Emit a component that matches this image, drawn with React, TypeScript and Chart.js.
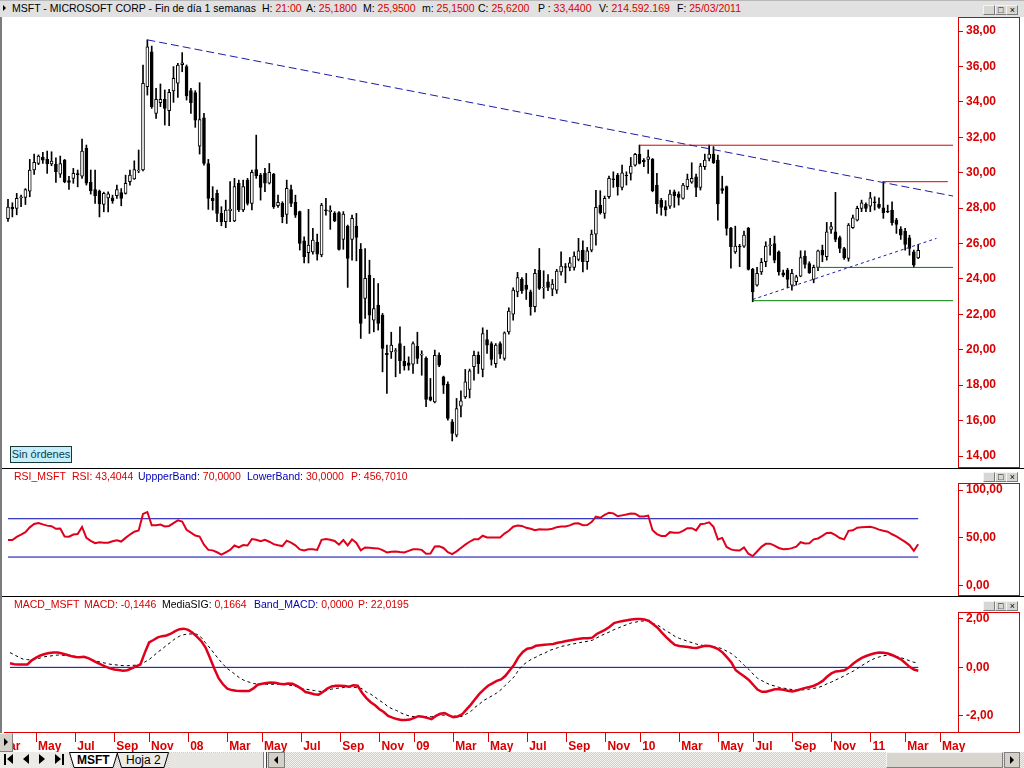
import React, { useEffect, useRef } from 'react';
import { Chart, registerables } from 'chart.js';
Chart.register(...registerables);

const FONT = "'Liberation Sans', Arial, sans-serif";
const RED = '#d80000';
const BLUE = '#0000b4';
const GREEN = '#008000';

// ---- weekly candles (Mar 23 2007 .. Mar 25 2011), index = week number ----
const opens = [
  27.40,28.05,27.98,28.58,28.60,28.95,30.15,30.52,30.86,30.75,30.49,30.49,29.92,30.71,29.55,29.68,29.95,29.80,31.37,29.45,
  29.05,28.96,28.21,28.58,28.58,28.70,28.87,28.83,29.49,29.64,30.10,30.15,34.85,36.83,33.35,33.95,34.14,33.50,34.61,35.05,
  36.10,35.99,34.63,34.52,31.50,33.10,30.52,28.55,28.83,27.70,27.23,27.85,27.27,29.40,27.89,29.58,28.27,30.18,29.86,29.96,
  29.40,29.92,28.13,28.27,27.64,29.05,28.32,27.80,26.15,25.48,25.53,26.08,25.35,27.90,27.80,27.70,27.74,26.23,26.98,26.23,
  26.98,25.67,22.90,24.21,21.67,22.52,21.95,19.80,19.88,19.90,20.35,19.35,19.26,19.19,20.20,19.70,19.51,17.34,17.06,19.69,
  18.47,18.06,15.93,15.18,16.81,17.34,17.76,19.04,19.69,18.89,20.58,20.35,19.22,20.35,19.51,21.01,22.01,23.27,23.97,23.65,
  23.27,22.43,24.50,23.50,23.84,23.42,23.37,24.40,24.70,24.65,24.65,25.10,25.63,24.97,25.63,26.53,28.17,27.70,28.64,29.65,
  29.86,29.17,29.85,29.96,30.43,31.03,30.70,30.75,30.77,29.30,28.45,28.08,28.11,28.92,28.79,28.55,29.21,29.47,29.77,29.17,
  30.34,30.81,31.05,30.71,29.10,29.21,26.85,25.53,25.85,25.85,26.85,24.54,23.65,24.40,24.97,25.88,26.00,25.53,24.35,24.50,
  23.65,23.84,24.16,25.29,24.87,23.97,24.65,25.63,25.25,26.80,26.66,26.34,25.72,25.16,26.89,27.32,27.98,28.21,28.11,28.35,
  28.21,28.02,27.82,27.89,27.32,26.81,26.70,26.32,25.53,25.18,
];
const highs = [
  28.50,28.30,28.83,28.73,29.10,30.75,31.05,31.00,31.15,31.22,31.18,30.84,30.94,30.75,29.80,30.24,30.15,31.90,31.56,30.15,
  30.15,29.02,28.90,28.92,28.73,29.30,29.10,29.86,30.15,30.67,31.28,36.08,37.50,37.15,34.76,35.01,34.67,34.70,35.99,36.17,
  36.78,36.08,34.76,34.63,35.08,33.35,30.75,29.21,29.02,28.08,28.45,29.49,29.68,29.58,29.58,29.68,30.15,32.12,29.96,30.24,
  30.52,29.96,28.73,28.36,29.58,29.30,28.73,27.83,26.38,27.93,26.85,26.53,28.27,28.55,28.13,27.80,27.80,27.80,27.04,27.60,
  27.70,26.00,25.72,25.06,24.03,23.74,22.05,20.26,20.99,20.07,21.30,20.20,19.60,20.45,20.99,19.94,19.60,18.38,19.98,19.82,
  18.51,18.19,16.06,17.25,17.68,18.89,18.91,19.92,19.88,21.24,21.11,20.45,20.35,20.45,21.01,22.37,23.50,24.37,24.08,24.31,
  23.37,24.54,25.72,24.46,24.25,23.97,24.54,25.53,24.87,25.21,25.53,26.29,26.15,25.78,26.76,29.00,28.98,28.68,29.81,30.05,
  29.96,30.43,30.05,30.86,31.09,31.56,30.80,31.28,30.80,29.96,28.55,28.42,29.02,29.02,28.92,29.40,29.92,30.56,29.92,30.52,
  31.05,31.56,31.47,31.00,29.80,29.25,26.91,26.98,25.95,26.70,26.91,24.60,24.65,25.16,26.10,26.29,26.42,25.59,24.50,24.60,
  24.54,24.21,25.59,25.59,24.97,24.78,25.63,25.91,27.19,27.19,28.89,26.42,25.78,27.13,27.60,28.11,28.45,28.30,28.89,28.64,
  28.58,29.49,28.17,28.36,27.42,26.95,26.85,26.47,25.63,25.95,
];
const lows = [
  27.25,27.50,27.62,28.08,28.20,28.64,29.90,30.45,30.52,29.96,30.39,29.45,29.73,29.43,29.05,29.40,29.20,29.68,29.30,28.79,
  28.27,27.50,27.79,27.79,28.27,28.55,28.13,28.79,29.30,29.62,30.00,30.10,34.38,33.63,33.07,33.73,32.69,32.65,33.97,34.25,
  35.70,34.10,33.35,32.56,31.05,30.43,27.93,27.89,27.23,27.00,26.89,27.23,27.23,27.80,27.80,28.17,27.89,29.68,28.45,28.92,
  29.36,27.98,28.04,27.17,27.13,28.08,27.47,25.63,24.90,24.90,25.40,25.06,25.25,27.60,26.80,27.23,25.63,25.67,23.52,25.06,
  25.02,20.64,21.77,20.92,21.01,21.11,18.75,17.53,19.51,18.47,18.66,18.85,18.85,18.66,19.22,18.56,16.78,17.11,17.00,19.04,
  17.53,16.02,14.85,15.08,16.21,17.25,17.28,18.28,18.66,18.47,19.79,19.13,19.00,19.51,19.41,20.88,21.67,22.99,23.18,22.84,
  21.95,22.14,23.40,22.90,23.33,23.05,23.18,24.21,23.78,24.46,24.50,25.02,24.40,24.54,25.53,25.91,27.66,27.42,28.55,29.17,
  28.73,29.02,29.30,29.58,30.37,30.49,30.34,29.96,28.92,27.70,27.60,27.56,27.98,28.04,28.17,28.51,29.05,29.40,28.64,29.02,
  30.18,30.67,30.52,27.32,28.83,26.47,24.60,25.44,24.69,25.78,24.50,22.71,23.59,24.25,24.69,25.34,24.91,24.21,24.12,23.50,
  23.37,23.65,24.12,24.60,24.31,23.78,24.46,24.97,25.06,26.57,26.10,25.48,25.10,25.00,26.85,27.27,27.80,27.80,27.80,27.89,
  27.98,27.42,27.74,27.04,26.57,26.23,25.63,25.34,24.65,25.15,
];
const closes = [
  28.05,27.95,28.55,28.64,29.05,30.15,30.58,30.94,30.71,30.49,30.66,30.05,30.52,29.49,29.45,29.96,29.88,31.22,29.40,28.98,
  28.70,28.23,28.83,28.80,28.40,29.05,28.55,29.40,29.86,30.18,30.15,35.05,37.10,33.73,34.14,34.14,33.63,34.53,35.33,36.08,
  36.20,34.33,33.95,32.97,33.00,30.52,28.55,28.42,27.70,27.23,27.89,27.95,29.21,27.89,29.21,28.27,30.02,29.83,29.17,29.40,
  30.02,28.08,28.32,27.51,29.11,28.27,27.60,26.00,25.25,25.91,26.19,25.40,28.17,27.85,27.88,27.28,25.67,27.66,25.16,27.42,
  26.34,21.48,24.03,21.95,22.33,21.48,20.07,19.72,20.26,19.95,19.37,19.09,19.11,20.35,19.51,19.75,17.19,17.15,19.69,19.13,
  18.00,16.12,15.27,16.68,17.11,18.19,18.81,19.69,19.22,20.92,20.26,19.45,20.26,19.75,20.96,22.18,23.37,24.08,23.33,23.40,
  22.43,24.31,23.46,23.52,23.52,23.71,24.44,24.72,24.65,24.91,25.29,25.59,24.97,25.59,26.53,28.04,27.74,28.55,29.68,29.60,
  29.21,29.99,29.83,30.37,31.03,30.52,30.62,30.90,28.98,28.23,28.04,27.89,28.79,28.70,28.60,29.30,29.64,29.68,29.17,30.37,
  30.71,31.05,30.56,28.23,29.00,26.85,25.82,25.85,25.80,26.47,24.54,23.27,24.31,24.93,25.85,25.93,25.06,24.40,24.21,23.97,
  24.31,24.12,25.21,24.82,24.35,24.65,25.59,25.34,26.66,26.95,26.23,25.72,25.19,27.04,27.45,27.98,28.30,27.98,28.58,28.30,
  28.04,27.74,27.78,27.17,27.08,26.47,25.95,25.72,24.78,25.62,
];

// ---- RSI ----
const rsiValues = [
  47.8,47.8,51,53.5,56,61,64.5,65.6,64.1,62.8,62.2,59.5,59.7,51.5,51.2,53.5,54,61.5,50,47,
  44.5,45.5,45,45,46.5,47.6,46.2,50,53.5,56.5,57.8,75,77,63.2,63.2,64,62,62.5,65.5,68.3,
  67,58.5,55.5,52.5,51.4,43,37.5,37,35,32.5,35,37.5,42,40,42.5,42,48.8,48,46.5,48,
  46,43.5,42.3,41.5,47.1,45,42.3,38,37,38.2,38.2,37.5,48,48.8,48.1,46.8,43,47.8,42.2,48.5,
  44.8,37,40,39.6,39.3,39,37.2,34.8,35.6,35.8,35.2,34.8,36.5,38.2,38.1,37.5,33.5,33.8,41,41.2,
  39.5,35,33,36,39.5,43,46,48.5,48.5,52.3,50.5,50.4,50.5,50.5,54.5,57.4,61.7,63,62.5,60.5,
  59.5,58,59,58.7,58.7,59.5,61.2,62,62,63.1,65,65.2,63.3,63.5,66.5,72.2,71,74,76.3,75.6,
  72.6,73.5,74.4,75.5,75.3,72.4,72.4,73.3,58,54,52.1,51.9,56,55.5,55.3,57.3,60.2,60.2,57.8,64.2,
  64.9,66.3,61.5,48.3,50,40.5,38,37,36.8,40,33.5,31,35.8,40.7,43.8,44,42,39.5,38.2,38.3,
  39.3,40.9,45.5,44.2,44.5,48.5,49.4,52.1,55.2,55.3,52.9,49.9,48.5,57.4,57.9,60.6,61.1,61.4,61.6,60.5,
  58.6,57.4,56.5,53.8,51.5,48.8,45.9,42.5,36.5,43.4,
];
const rsiUpperBand = 70;
const rsiLowerBand = 30;

// ---- MACD ----
const macdValues = [
  0.17,0.13,0.12,0.12,0.12,0.29,0.40,0.49,0.55,0.59,0.61,0.61,0.57,0.52,0.47,0.43,0.42,0.44,0.38,0.29,
  0.20,0.11,0.03,-0.04,-0.09,-0.11,-0.14,-0.12,-0.04,0.04,0.12,0.60,1.03,1.13,1.24,1.29,1.32,1.39,1.50,1.58,
  1.60,1.55,1.43,1.27,1.09,0.82,0.40,-0.05,-0.45,-0.70,-0.88,-0.94,-0.97,-0.98,-0.98,-0.98,-0.87,-0.72,-0.68,-0.65,
  -0.63,-0.64,-0.68,-0.70,-0.67,-0.68,-0.77,-0.88,-1.02,-1.06,-1.11,-1.13,-1.02,-0.88,-0.79,-0.76,-0.76,-0.77,-0.80,-0.74,
  -0.76,-1.05,-1.27,-1.44,-1.57,-1.73,-1.85,-2.01,-2.08,-2.14,-2.18,-2.18,-2.16,-2.09,-2.02,-2.04,-2.09,-2.14,-2.01,-1.92,
  -1.89,-1.99,-2.06,-2.03,-1.95,-1.75,-1.55,-1.32,-1.10,-0.92,-0.76,-0.66,-0.56,-0.50,-0.35,-0.12,0.11,0.42,0.64,0.77,
  0.80,0.89,0.91,0.93,0.95,0.97,1.02,1.05,1.09,1.12,1.15,1.18,1.20,1.20,1.23,1.38,1.47,1.56,1.68,1.83,
  1.88,1.92,1.95,1.98,2.00,2.00,1.98,1.92,1.78,1.64,1.44,1.25,1.08,0.93,0.88,0.86,0.84,0.81,0.80,0.85,
  0.89,0.88,0.83,0.75,0.61,0.41,0.20,-0.12,-0.25,-0.38,-0.52,-0.72,-0.92,-1.01,-1.01,-0.96,-0.91,-0.91,-0.93,-0.97,
  -1.00,-0.96,-0.90,-0.85,-0.81,-0.76,-0.67,-0.56,-0.39,-0.25,-0.17,-0.15,-0.12,-0.01,0.15,0.28,0.39,0.47,0.53,0.58,
  0.61,0.60,0.57,0.51,0.42,0.33,0.18,0.02,-0.09,-0.14,
];
const signalValues = [
  0.61,0.52,0.42,0.34,0.32,0.30,0.34,0.39,0.44,0.46,0.49,0.51,0.50,0.49,0.48,0.46,0.43,0.41,0.37,0.31,
  0.25,0.21,0.17,0.13,0.11,0.09,0.07,0.07,0.08,0.09,0.13,0.22,0.32,0.47,0.63,0.76,0.91,1.04,1.19,1.29,
  1.35,1.38,1.38,1.37,1.24,1.01,0.80,0.57,0.34,0.13,-0.05,-0.18,-0.32,-0.46,-0.55,-0.61,-0.67,-0.69,-0.70,-0.70,
  -0.70,-0.70,-0.70,-0.71,-0.73,-0.76,-0.80,-0.87,-0.90,-0.93,-0.96,-0.99,-1.00,-0.95,-0.90,-0.87,-0.85,-0.83,-0.81,-0.82,
  -0.85,-0.88,-1.02,-1.11,-1.23,-1.37,-1.48,-1.63,-1.72,-1.79,-1.89,-1.96,-2.02,-2.04,-2.04,-2.04,-2.04,-2.04,-2.00,-1.97,
  -1.98,-1.99,-2.01,-2.03,-2.03,-1.93,-1.83,-1.65,-1.52,-1.37,-1.27,-1.17,-1.06,-0.92,-0.74,-0.57,-0.39,-0.12,0.09,0.22,
  0.34,0.42,0.52,0.58,0.69,0.75,0.81,0.87,0.90,0.95,0.98,1.02,1.05,1.08,1.12,1.22,1.31,1.39,1.47,1.56,
  1.63,1.71,1.77,1.84,1.87,1.91,1.92,1.92,1.81,1.75,1.63,1.50,1.41,1.28,1.20,1.14,1.07,1.02,0.96,0.92,
  0.89,0.86,0.84,0.82,0.76,0.66,0.57,0.43,0.25,0.08,-0.08,-0.28,-0.45,-0.55,-0.64,-0.73,-0.77,-0.83,-0.86,-0.89,
  -0.92,-0.93,-0.94,-0.92,-0.90,-0.87,-0.83,-0.77,-0.68,-0.61,-0.52,-0.44,-0.35,-0.25,-0.16,-0.05,0.07,0.18,0.29,0.37,
  0.43,0.48,0.50,0.48,0.45,0.40,0.34,0.27,0.21,0.17,
];
const macdBand = 0;

// ---- axes ----
const priceTicks = [14, 16, 18, 20, 22, 24, 26, 28, 30, 32, 34, 36, 38];
const rsiTicks = [0, 50, 100];
const macdTicks = [-2, 0, 2];
const monthTickIndex = [-3, 6, 15, 24, 32, 41, 50, 58, 67, 76, 85, 93, 102, 110, 119, 128, 137, 145, 154, 163, 171, 180, 189, 198, 206, 214];
const monthTickLabels = ['Mar', 'May', 'Jul', 'Sep', 'Nov', '08', 'Mar', 'May', 'Jul', 'Sep', 'Nov', '09', 'Mar', 'May', 'Jul', 'Sep', 'Nov', '10', 'Mar', 'May', 'Jul', 'Sep', 'Nov', '11', 'Mar', 'May'];

// ---- drawn studies on price panel (index, price) ----
const downTrendLine = [{ x: 32, y: 37.5 }, { x: 217, y: 28.68 }];
const upTrendLine = [{ x: 171, y: 22.84 }, { x: 213.2, y: 26.29 }];
const resistanceHigh = [{ x: 145, y: 31.55 }, { x: 217, y: 31.55 }];
const resistanceLow = [{ x: 201, y: 29.49 }, { x: 215.8, y: 29.49 }];
const supportHigh = [{ x: 186, y: 24.65 }, { x: 217, y: 24.65 }];
const supportLow = [{ x: 171, y: 22.77 }, { x: 217, y: 22.77 }];

const X_MIN = -1.378;
const X_MAX = 218.14;
const LAST = closes.length - 1;

const fmt2 = (v: number) => v.toFixed(2).replace('.', ',');

function rightAxis(min: number, max: number, ticks: number[]) {
  return {
    type: 'linear',
    position: 'right',
    min,
    max,
    beginAtZero: false,
    afterBuildTicks: (s: any) => { s.ticks = ticks.map((v) => ({ value: v })); },
    afterFit: (s: any) => { s.width = 66; },
    grid: { display: true, drawOnChartArea: false, drawTicks: true, tickLength: 5, color: RED, lineWidth: 1 },
    border: { display: false },
    ticks: { color: RED, padding: 3, font: { family: FONT, size: 12, weight: 'bold' }, callback: (v: number) => fmt2(v) },
  };
}

const hiddenX = { type: 'linear', min: X_MIN, max: X_MAX, display: false, offset: false, grid: { offset: false } };

function baseOptions(padTop: number, padBottom: number, scales: any) {
  return {
    responsive: false,
    maintainAspectRatio: false,
    animation: false,
    devicePixelRatio: 1,
    events: [],
    layout: { padding: { left: 2, right: 0, top: padTop, bottom: padBottom } },
    plugins: { legend: { display: false }, tooltip: { enabled: false } },
    scales,
  };
}

function lineDs(data: any[], color: string, width: number, dash: number[] = [], order = 0) {
  return { type: 'line', data, borderColor: color, borderWidth: width, borderDash: dash, pointRadius: 0, fill: false, tension: 0, order };
}

function priceConfig() {
  const wicks = lows.map((l, i) => ({ x: i, y: [l, highs[i]] }));
  const bodies = opens.map((o, i) => ({ x: i, y: [o, closes[i]] }));
  return {
    type: 'line',
    data: {
      datasets: [
        lineDs(downTrendLine, '#1c1ca8', 1, [8, 4]),
        lineDs(upTrendLine, '#1c1ca8', 1, [3, 3]),
        lineDs(resistanceHigh, RED, 1),
        lineDs(resistanceLow, RED, 1),
        lineDs(supportHigh, GREEN, 1),
        lineDs(supportLow, GREEN, 1),
        {
          type: 'bar', data: bodies, order: 1, grouped: false, barThickness: 3,
          backgroundColor: opens.map((o, i) => (closes[i] >= o ? '#ffffff' : '#000000')),
          borderColor: '#000000', borderWidth: 1, borderSkipped: false,
        },
        { type: 'bar', data: wicks, order: 2, grouped: false, barThickness: 1, backgroundColor: '#000000', borderWidth: 0 },
      ],
    },
    options: baseOptions(14, 12, { x: hiddenX, y: rightAxis(14, 38, priceTicks) }),
  };
}

function rsiConfig() {
  return {
    type: 'line',
    data: {
      datasets: [
        lineDs(rsiValues.map((v, i) => ({ x: i, y: v })), '#e0001c', 2),
        lineDs([{ x: 0, y: rsiUpperBand }, { x: LAST, y: rsiUpperBand }], BLUE, 1, [], 1),
        lineDs([{ x: 0, y: rsiLowerBand }, { x: LAST, y: rsiLowerBand }], BLUE, 1, [], 1),
      ],
    },
    options: baseOptions(21, 9.3, { x: hiddenX, y: rightAxis(0, 100, rsiTicks) }),
  };
}

function macdConfig() {
  return {
    type: 'line',
    data: {
      datasets: [
        lineDs(macdValues.map((v, i) => ({ x: i, y: v })), '#e0001c', 2.5),
        lineDs(signalValues.map((v, i) => ({ x: i, y: v })), '#000000', 1, [3, 3], 1),
        lineDs([{ x: 0, y: macdBand }, { x: LAST, y: macdBand }], BLUE, 1, [], 2),
      ],
    },
    options: baseOptions(13, 0, {
      x: {
        type: 'linear', min: X_MIN, max: X_MAX, offset: false,
        afterBuildTicks: (s: any) => { s.ticks = monthTickIndex.map((v) => ({ value: v })); },
        afterFit: (s: any) => { s.height = 20; },
        grid: { display: true, drawOnChartArea: false, drawTicks: true, tickLength: 10, color: RED, offset: false },
        border: { display: true, color: RED, width: 1 },
        ticks: {
          autoSkip: false, maxRotation: 0, minRotation: 0, align: 'start', labelOffset: 2, padding: -3,
          color: RED, font: { family: FONT, size: 12, weight: 'bold' },
          callback: (_v: number, i: number) => monthTickLabels[i],
        },
      },
      y: rightAxis(-2.674, 2.372, macdTicks),
    }),
  };
}

function ChartCanvas({ left, top, width, height, make }: any) {
  const ref = useRef<HTMLCanvasElement>(null);
  useEffect(() => {
    const chart = new Chart(ref.current as HTMLCanvasElement, make());
    return () => chart.destroy();
  }, []);
  return <canvas ref={ref} width={width} height={height} style={{ position: 'absolute', left, top, width, height }} />;
}

type Part = [string, string];
function Txt({ left, top, parts, size = 10.5 }: { left: number; top: number; parts: Part[]; size?: number }) {
  return (
    <div style={{ position: 'absolute', left, top, fontFamily: FONT, fontSize: size, lineHeight: '12px', whiteSpace: 'pre' }}>
      {parts.map(([t, c], k) => <span key={k} style={{ color: c }}>{t}</span>)}
    </div>
  );
}

function WinButtons({ top }: { top: number }) {
  const syms = ['_', '□', '×'];
  return (
    <>
      {syms.map((s, k) => (
        <div key={k} style={{
          position: 'absolute', left: 983 + k * 11.7, top, width: 10, height: 8, background: '#d8d6d2',
          borderTop: '1px solid #f4f4f4', borderLeft: '1px solid #f4f4f4', borderRight: '1px solid #7a7a7a', borderBottom: '1px solid #7a7a7a',
          fontFamily: FONT, fontSize: 9, lineHeight: '8px', textAlign: 'center', color: '#000', overflow: 'hidden',
        }}>{s}</div>
      ))}
    </>
  );
}

const box = (left: number, top: number, width: number, height: number, style: any = {}) => (
  <div style={{ position: 'absolute', left, top, width, height, boxSizing: 'border-box', ...style }} />
);

const triR = (left: number, top: number, h = 10, w = 6) => (
  <div style={{ position: 'absolute', left, top, width: 0, height: 0, borderTop: `${h / 2}px solid transparent`, borderBottom: `${h / 2}px solid transparent`, borderLeft: `${w}px solid #000` }} />
);
const triL = (left: number, top: number, h = 10, w = 6) => (
  <div style={{ position: 'absolute', left, top, width: 0, height: 0, borderTop: `${h / 2}px solid transparent`, borderBottom: `${h / 2}px solid transparent`, borderRight: `${w}px solid #000` }} />
);

export default function App() {
  const k = '#000000';
  return (
    <div style={{ position: 'fixed', left: 0, top: 0, width: 1024, height: 768, background: '#ffffff', overflow: 'hidden' }}>
      {/* main header */}
      {box(0, 0, 1024, 17, { background: '#e1e1e1', borderTop: '1px solid #b8b8b8' })}
      {triR(3, 5, 6, 3)}
      <Txt left={12} top={2} parts={[['MSFT - MICROSOFT CORP - Fin de día 1 semanas', k]]} />
      <Txt left={262} top={2} parts={[['H: ', k], ['21:00', RED]]} />
      <Txt left={306} top={2} parts={[['A: ', k], ['25,1800', RED]]} />
      <Txt left={363} top={2} parts={[['M: ', k], ['25,9500', RED]]} />
      <Txt left={422} top={2} parts={[['m: ', k], ['25,1500', RED]]} />
      <Txt left={478} top={2} parts={[['C: ', k], ['25,6200', RED]]} />
      <Txt left={538} top={2} parts={[['P : ', k], ['33,4400', RED]]} />
      <Txt left={599} top={2} parts={[['V: ', k], ['214.592.169', RED]]} />
      <Txt left={677} top={2} parts={[['F: ', k], ['25/03/2011', RED]]} />
      <WinButtons top={5} />

      <ChartCanvas left={0} top={17} width={1024} height={451} make={priceConfig} />
      {box(958, 17, 62, 451, { border: `1px solid ${RED}` })}
      {box(10, 446, 62, 17, { background: '#c6eefb', border: '1px solid #163838' })}
      <div style={{ position: 'absolute', left: 10, top: 447, width: 62, textAlign: 'center', fontFamily: FONT, fontSize: 11, lineHeight: '14px', color: '#0b3c48' }}>Sin órdenes</div>
      {box(0, 468, 1024, 1, { background: '#000' })}

      {/* RSI */}
      <ChartCanvas left={0} top={469} width={1024} height={127} make={rsiConfig} />
      <Txt left={14} top={470} parts={[['RSI_MSFT', RED]]} />
      <Txt left={72} top={470} parts={[['RSI: 43,4044', RED]]} />
      <Txt left={138} top={470} parts={[['UppperBand: ', BLUE], ['70,0000', RED]]} />
      <Txt left={247} top={470} parts={[['LowerBand: ', BLUE], ['30,0000', RED]]} />
      <Txt left={351} top={470} parts={[['P: 456,7010', RED]]} />
      <WinButtons top={472} />
      {box(958, 483, 62, 113, { border: `1px solid ${RED}` })}
      {box(0, 596, 1024, 1, { background: '#000' })}

      {/* MACD */}
      <ChartCanvas left={0} top={597} width={1024} height={155} make={macdConfig} />
      <Txt left={14} top={598} parts={[['MACD_MSFT', RED]]} />
      <Txt left={84} top={598} parts={[['MACD: -0,1446', RED]]} />
      <Txt left={162} top={598} parts={[['MediaSIG: ', k], ['0,1664', RED]]} />
      <Txt left={254} top={598} parts={[['Band_MACD: ', BLUE], ['0,0000', RED]]} />
      <Txt left={358} top={598} parts={[['P: 22,0195', RED]]} />
      <WinButtons top={601} />
      {box(958, 612, 62, 121, { border: `1px solid ${RED}` })}

      {/* left border */}
      {box(0, 17, 2, 735, { background: '#7c7c7c' })}
      {/* small button at axis left */}
      {box(0, 733, 13, 19, { background: '#d4d0c8', borderRight: '1px solid #808080', borderBottom: '1px solid #808080', borderTop: '1px solid #f0f0f0' })}
      {triR(4, 738, 8, 4)}

      {/* tab bar */}
      <div style={{ position: 'absolute', left: 0, top: 752, width: 1024, height: 16, background: 'repeating-conic-gradient(#d2cfc8 0% 25%, #f3f2ef 0% 50%) 0 0/2px 2px' }}>
        {box(0, 0, 70, 16, { background: '#ecebe7' })}
        {box(4, 2, 2, 11, { background: '#000' })}
        {triL(7, 2, 11, 6)}
        {triL(23, 2, 11, 6)}
        {triR(39, 2, 11, 6)}
        {triR(55, 2, 11, 6)}
        {box(62, 2, 2, 11, { background: '#000' })}
        <svg width={300} height={16} style={{ position: 'absolute', left: 0, top: 0 }}>
          <polygon points="117,0.5 121.5,15.5 164,15.5 168.5,0.5" fill="#ecebe7" stroke="#000" strokeWidth={1} />
          <polygon points="69.5,0.5 74,15.5 113,15.5 117.5,0.5" fill="#ffffff" stroke="#000" strokeWidth={1} />
        </svg>
        <div style={{ position: 'absolute', left: 77, top: 1, fontFamily: FONT, fontSize: 12, fontWeight: 'bold', lineHeight: '14px', color: '#000' }}>MSFT</div>
        <div style={{ position: 'absolute', left: 126, top: 1, fontFamily: FONT, fontSize: 12, lineHeight: '14px', color: '#000' }}>Hoja 2</div>
        {box(169, 1, 94, 15, { background: '#e6e5e1' })}
        {box(263, 0, 4, 16, { background: '#ffffff', borderLeft: '1px solid #808080', borderRight: '1px solid #404040' })}
        {box(268, 0, 17, 16, { background: '#d4d0c8', border: '1px solid #808080' })}
        {triL(274, 4, 8, 4)}
        {box(886, 0, 117, 16, { background: '#d8d5cf', borderTop: '1px solid #f4f4f4', borderLeft: '1px solid #f4f4f4', borderRight: '1px solid #808080', borderBottom: '1px solid #808080' })}
        {box(1004, 0, 16, 16, { background: '#d4d0c8', border: '1px solid #808080' })}
        {triR(1010, 4, 8, 4)}
      </div>
    </div>
  );
}
